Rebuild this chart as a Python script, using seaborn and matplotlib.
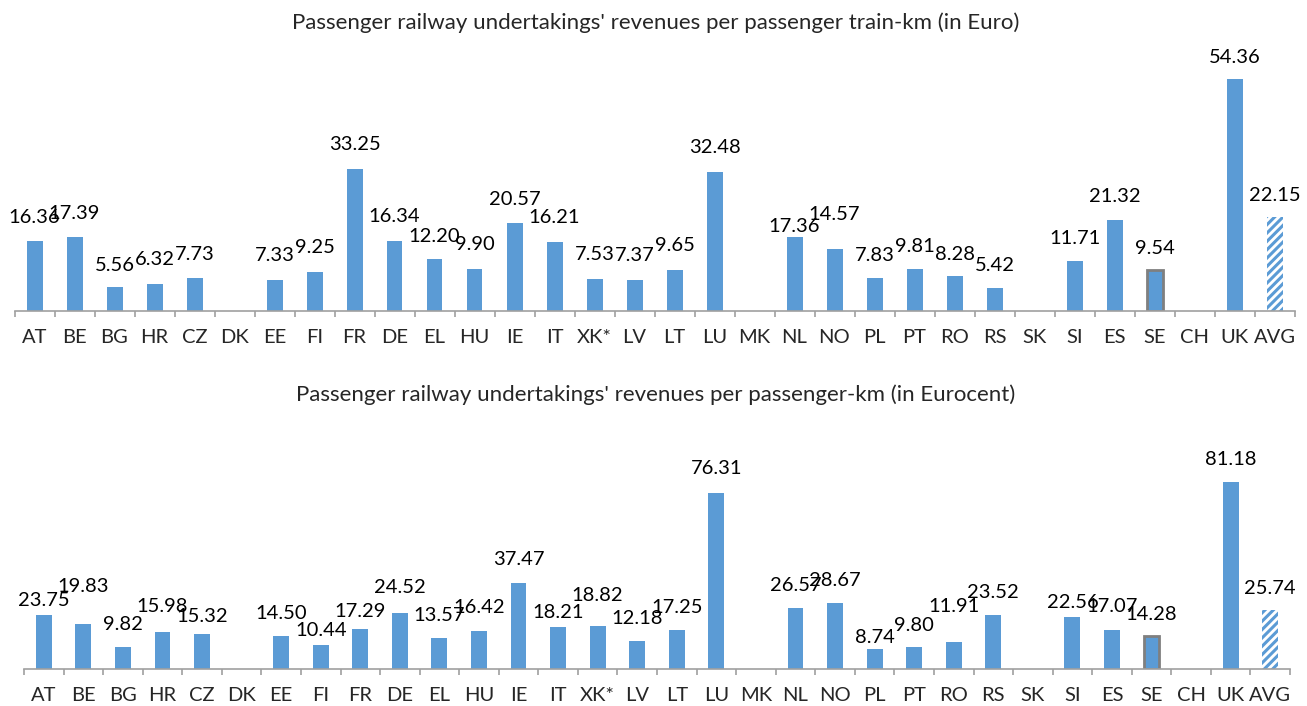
import numpy as np
import pandas as pd
import matplotlib
matplotlib.use("Agg")
import matplotlib.pyplot as plt
import seaborn as sns

countries = ["AT", "BE", "BG", "HR", "CZ", "DK", "EE", "FI", "FR", "DE", "EL", "HU",
             "IE", "IT", "XK*", "LV", "LT", "LU", "MK", "NL", "NO", "PL", "PT", "RO",
             "RS", "SK", "SI", "ES", "SE", "CH", "UK", "AVG"]

rev_train_km = [16.36, 17.39, 5.56, 6.32, 7.73, np.nan, 7.33, 9.25, 33.25, 16.34, 12.20, 9.90,
                20.57, 16.21, 7.53, 7.37, 9.65, 32.48, np.nan, 17.36, 14.57, 7.83, 9.81, 8.28,
                5.42, np.nan, 11.71, 21.32, 9.54, np.nan, 54.36, 22.15]

rev_pass_km = [23.75, 19.83, 9.82, 15.98, 15.32, np.nan, 14.50, 10.44, 17.29, 24.52, 13.57, 16.42,
               37.47, 18.21, 18.82, 12.18, 17.25, 76.31, np.nan, 26.57, 28.67, 8.74, 9.80, 11.91,
               23.52, np.nan, 22.56, 17.07, 14.28, np.nan, 81.18, 25.74]

titles = ["Passenger railway undertakings' revenues per passenger train-km (in Euro)",
          "Passenger railway undertakings' revenues per passenger-km (in Eurocent)"]

# distance (px) from each bar top up to the middle of its value label
label_lift_top = [24, 24, 22, 25, 24, 0, 25, 25, 25, 25, 23, 25,
                  24, 25, 25, 25, 25, 25, 0, 11, 35, 23, 23, 22,
                  23, 0, 23, 24, 22, 0, 22, 22]
label_lift_bot = [15, 38, 23, 26, 18, 0, 23, 15, 18, 26, 23, 24,
                  24, 15, 31, 23, 23, 25, 0, 23, 23, 12, 22, 36,
                  23, 0, 15, 24, 22, 0, 23, 22]

BLUE = "#5B9BD5"
GREY = "#7F7F7F"
AXIS_GREY = "#A0A0A0"
FS = 14.5

sns.set_theme(style="white")
plt.rcParams["font.family"] = ["Lato", "DejaVu Sans"]
plt.rcParams["hatch.color"] = BLUE
plt.rcParams["hatch.linewidth"] = 2.2

W, H = 1307, 706
fig = plt.figure(figsize=(W / 100, H / 100), dpi=100)
ax_top = fig.add_axes([14.5 / W, 1 - 311 / H, 1280 / W, 255.9 / H])
ax_bot = fig.add_axes([24 / W, 1 - 669.3 / H, 1266 / W, 207.5 / H])


def draw_panel(ax, values, lifts, ymax, title, title_baseline_px):
    df = pd.DataFrame({"country": countries, "value": values})
    sns.barplot(data=df, x="country", y="value", ax=ax, color=BLUE,
                width=0.4, saturation=1, errorbar=None)
    n = len(countries)
    ax.set_xlim(-0.5, n - 0.5)
    ax.set_ylim(0, ymax)
    for p in ax.patches:
        name = countries[int(round(p.get_x() + p.get_width() / 2))]
        p.set_edgecolor("none")
        if name == "SE":
            p.set_edgecolor(GREY)
            p.set_linewidth(2)
        elif name == "AVG":
            p.set_facecolor("white")
            p.set_hatch("////")
            p.set_edgecolor(BLUE)
            p.set_linewidth(0)
    for i, v in enumerate(values):
        if not np.isnan(v):
            ax.annotate(f"{v:.2f}", (i, v), xytext=(0, (lifts[i] - 6) * 0.72),
                        textcoords="offset points", ha="center", va="baseline",
                        fontsize=FS, color="#000000")
    for s in ["top", "right", "left"]:
        ax.spines[s].set_visible(False)
    ax.spines["bottom"].set_color(AXIS_GREY)
    ax.spines["bottom"].set_linewidth(1.2)
    ax.set_yticks([])
    ax.set_xlabel("")
    ax.set_ylabel("")
    ax.set_xticks(np.arange(n))
    ax.set_xticklabels(countries, fontsize=FS)
    ax.tick_params(axis="x", which="major", length=0, pad=13)
    ax.set_xticks(np.arange(-0.5, n, 1.0), minor=True)
    ax.tick_params(axis="x", which="minor", length=4.5, width=1.2, color=AXIS_GREY,
                   direction="out", bottom=True)
    fig.text(0.502, 1 - title_baseline_px / H, title, ha="center", va="baseline",
             fontsize=16)


draw_panel(ax_top, rev_train_km, label_lift_top, 60, titles[0], 29)
draw_panel(ax_bot, rev_pass_km, label_lift_bot, 90, titles[1], 401)

fig.savefig("out.png", dpi=100, facecolor="white")
